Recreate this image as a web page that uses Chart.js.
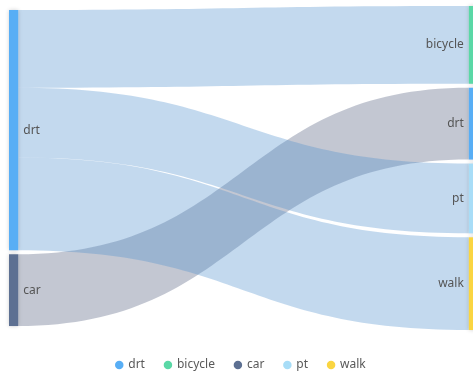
<!DOCTYPE html>
<html>
<head>
<meta charset="utf-8">
<script src="https://cdn.jsdelivr.net/npm/chart.js"></script>
<style>
html, body { margin: 0; padding: 0; background: #fff; }
#wrap { width: 473px; height: 373px; }
</style>
</head>
<body>
<div id="wrap"><canvas id="sankeyChart"></canvas></div>
<script>
// 节点：左列（来源）和右列（去向）
const leftNodes = ['drt', 'car'];
const rightNodes = ['bicycle', 'drt', 'pt', 'walk'];

// 流向数据
const linkFrom = ['drt', 'drt', 'drt', 'car'];
const linkTo = ['bicycle', 'pt', 'walk', 'drt'];
const linkValues = [78, 70, 93, 72];

// 图例
const legendNames = ['drt', 'bicycle', 'car', 'pt', 'walk'];

const nodeColors = {
    drt: '#58aef5',
    bicycle: '#5ad8a6',
    car: '#5d7092',
    pt: '#a8ddf7',
    walk: '#fad541'
};
const flowColors = {
    drt: 'rgba(84, 146, 206, 0.35)',
    car: 'rgba(84, 95, 126, 0.35)'
};

const nodeGap = 4;        // 节点间距（数值单位）
const nodeWidth = 0.02;   // 节点宽度（x 轴单位）
const leftX = 0;
const rightX = 0.991;

// 计算每一列节点的位置
function layoutColumn(names, keys) {
    const totals = names.map(n => linkValues.reduce((s, v, i) => s + (keys[i] === n ? v : 0), 0));
    const span = totals.reduce((a, b) => a + b, 0) + nodeGap * (names.length - 1);
    return { names, totals, span };
}

function buildLayout() {
    const left = layoutColumn(leftNodes, linkFrom);
    const right = layoutColumn(rightNodes, linkTo);
    const maxSpan = Math.max(left.span, right.span);
    [left, right].forEach(col => {
        let y = (maxSpan - col.span) / 2;
        col.y0 = [];
        col.totals.forEach((t, i) => {
            col.y0.push(y);
            y += t + nodeGap;
        });
    });

    // 每条流在两端的位置
    const links = linkValues.map((v, i) => ({ i, from: linkFrom[i], to: linkTo[i], value: v }));
    const srcOffset = {};
    const tgtOffset = {};
    left.names.forEach((n, k) => { srcOffset[n] = left.y0[k]; });
    right.names.forEach((n, k) => { tgtOffset[n] = right.y0[k]; });

    links.slice().sort((a, b) => rightNodes.indexOf(a.to) - rightNodes.indexOf(b.to)).forEach(l => {
        l.sy = srcOffset[l.from];
        srcOffset[l.from] += l.value;
    });
    links.slice().sort((a, b) => leftNodes.indexOf(a.from) - leftNodes.indexOf(b.from)).forEach(l => {
        l.ty = tgtOffset[l.to];
        tgtOffset[l.to] += l.value;
    });
    return { left, right, links };
}

const sankeyLayout = buildLayout();

const sankeyPlugin = {
    id: 'sankeyPlugin',
    beforeDatasetsDraw(chart) {
        const { ctx } = chart;
        const x = chart.scales.x;
        const y = chart.scales.y;
        const { left, right, links } = sankeyLayout;

        const x0 = x.getPixelForValue(leftX + nodeWidth);
        const x1 = x.getPixelForValue(rightX);
        const xm = (x0 + x1) / 2;

        ctx.save();
        // 先画 car 的流，再画 drt 的流
        links.slice().reverse().forEach(l => {
            const sTop = y.getPixelForValue(l.sy);
            const sBot = y.getPixelForValue(l.sy + l.value);
            const tTop = y.getPixelForValue(l.ty);
            const tBot = y.getPixelForValue(l.ty + l.value);
            ctx.beginPath();
            ctx.moveTo(x0, sTop);
            ctx.bezierCurveTo(xm, sTop, xm, tTop, x1, tTop);
            ctx.lineTo(x1, tBot);
            ctx.bezierCurveTo(xm, tBot, xm, sBot, x0, sBot);
            ctx.closePath();
            ctx.fillStyle = flowColors[l.from];
            ctx.fill();
        });

        // 节点
        const drawNodes = (col, xa) => {
            const px0 = x.getPixelForValue(xa);
            const px1 = x.getPixelForValue(xa + nodeWidth);
            col.names.forEach((n, k) => {
                const top = y.getPixelForValue(col.y0[k]);
                const bot = y.getPixelForValue(col.y0[k] + col.totals[k]);
                ctx.save();
                ctx.shadowColor = 'rgba(0, 0, 0, 0.18)';
                ctx.shadowBlur = 4;
                ctx.fillStyle = nodeColors[n];
                ctx.fillRect(px0, top, px1 - px0, bot - top);
                ctx.restore();
            });
        };
        drawNodes(left, leftX);
        drawNodes(right, rightX);

        // 标签
        ctx.font = '12px "Noto Sans", sans-serif';
        ctx.fillStyle = '#555';
        ctx.textBaseline = 'middle';
        ctx.textAlign = 'left';
        left.names.forEach((n, k) => {
            const cy = y.getPixelForValue(left.y0[k] + left.totals[k] / 2);
            ctx.fillText(n, x.getPixelForValue(leftX + nodeWidth) + 5, cy);
        });
        ctx.textAlign = 'right';
        right.names.forEach((n, k) => {
            const cy = y.getPixelForValue(right.y0[k] + right.totals[k] / 2);
            ctx.fillText(n, x.getPixelForValue(rightX) - 5, cy);
        });
        ctx.restore();
    }
};

function initSankeyChart() {
    const ctx = document.getElementById('sankeyChart');
    if (!ctx) {
        console.warn('找不到图表元素');
        return;
    }
    new Chart(ctx, {
        type: 'scatter',
        data: {
            datasets: legendNames.map(n => ({
                label: n,
                data: [],
                backgroundColor: nodeColors[n],
                borderColor: nodeColors[n],
                borderWidth: 0,
                pointStyle: 'circle'
            }))
        },
        options: {
            responsive: true,
            maintainAspectRatio: false,
            animation: false,
            layout: {
                padding: { top: 6, left: 9, right: 0, bottom: -8 }
            },
            scales: {
                x: { type: 'linear', display: false, min: 0, max: 1 },
                y: { type: 'linear', display: false, min: 0, max: 334, reverse: true }
            },
            plugins: {
                tooltip: { enabled: false },
                legend: {
                    position: 'bottom',
                    labels: {
                        usePointStyle: true,
                        pointStyle: 'circle',
                        boxWidth: 6,
                        boxHeight: 6,
                        padding: 20,
                        color: '#595959',
                        font: { size: 12, family: '"Noto Sans", sans-serif' }
                    }
                }
            }
        },
        plugins: [sankeyPlugin]
    });
}

initSankeyChart();
</script>
</body>
</html>
